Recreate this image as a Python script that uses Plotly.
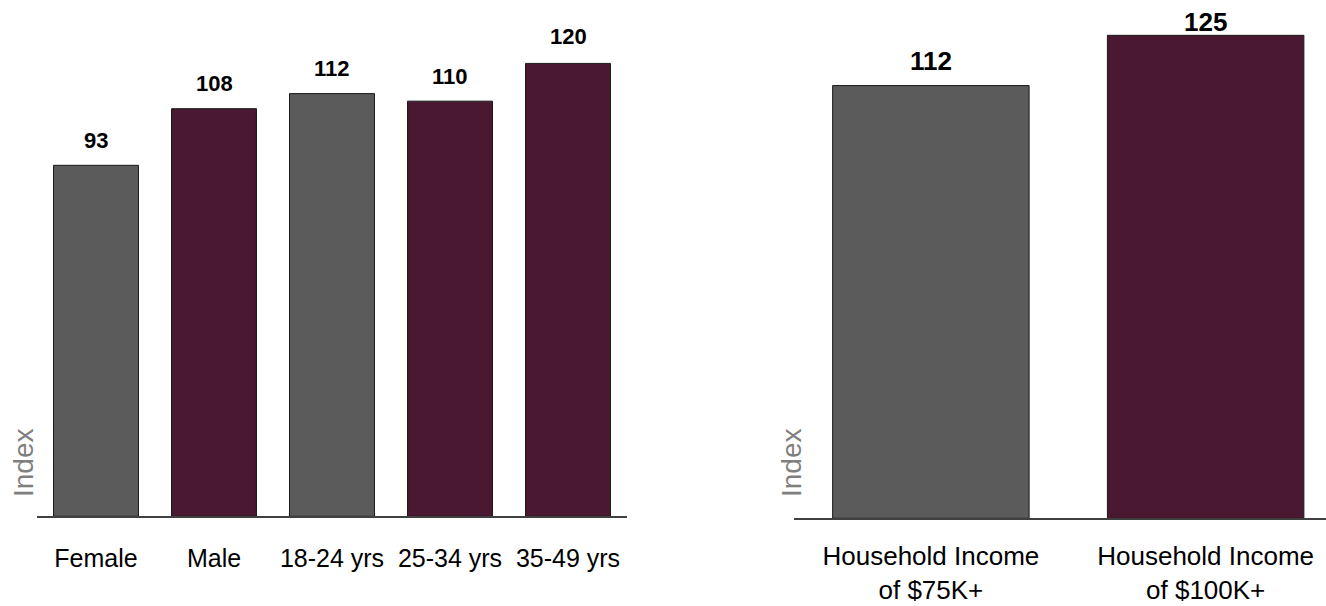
import plotly.graph_objects as go

# ---- data ----
demo_categories = ["Female", "Male", "18-24 yrs", "25-34 yrs", "35-49 yrs"]
demo_values = [93, 108, 112, 110, 120]
income_categories = ["Household Income<br>of $75K+", "Household Income<br>of $100K+"]
income_values = [112, 125]
axis_title = "Index"

GRAY = "#5b5b5b"
MAROON = "#4a1830"
demo_colors = [GRAY, MAROON, GRAY, MAROON, MAROON]
income_colors = [GRAY, MAROON]
demo_label_shift = [25, 25, 25, 25, 27]
income_label_shift = [25, 13]

FONT = "Liberation Sans, Arial, sans-serif"

fig = go.Figure()
fig.add_trace(go.Bar(
    x=list(range(len(demo_categories))), y=demo_values,
    marker=dict(color=demo_colors, line=dict(color="#1a1a1a", width=1)),
    width=0.72, xaxis="x", yaxis="y", showlegend=False, hoverinfo="skip",
))
fig.add_trace(go.Bar(
    x=list(range(len(income_categories))), y=income_values,
    marker=dict(color=income_colors, line=dict(color="#1a1a1a", width=1)),
    width=0.715, xaxis="x2", yaxis="y2", showlegend=False, hoverinfo="skip",
))

annotations = []
for i, v in enumerate(demo_values):
    annotations.append(dict(x=i, y=v, xref="x", yref="y", text=f"<b>{v}</b>",
                            showarrow=False, yanchor="middle", yshift=demo_label_shift[i],
                            font=dict(family=FONT, size=22, color="#000")))
for i, v in enumerate(income_values):
    annotations.append(dict(x=i, y=v, xref="x2", yref="y2", text=f"<b>{v}</b>",
                            showarrow=False, yanchor="middle", yshift=income_label_shift[i],
                            font=dict(family=FONT, size=26, color="#000")))
for xp in [23 / 1326, 791 / 1326]:
    annotations.append(dict(x=xp, y=(606 - 463) / 606, xref="paper", yref="paper",
                            text=axis_title, showarrow=False, textangle=-90,
                            xanchor="center", yanchor="middle",
                            font=dict(family=FONT, size=28, color="#7f7f7f")))

fig.update_layout(
    template="none",
    width=1326, height=606,
    margin=dict(l=0, r=0, t=0, b=0, pad=0),
    paper_bgcolor="white", plot_bgcolor="white",
    xaxis=dict(domain=[37 / 1326, 627 / 1326], range=[-0.5, 4.5], automargin=False,
               tickmode="array", tickvals=list(range(len(demo_categories))),
               ticktext=demo_categories, showgrid=False, zeroline=False,
               showline=True, linecolor="#404040", linewidth=1.5, ticks="",
               ticklabelstandoff=19,
               tickfont=dict(family=FONT, size=25, color="#000")),
    yaxis=dict(domain=[(606 - 516.3) / 606, (606 - 6.8) / 606], range=[0, 135],
               visible=False, automargin=False),
    xaxis2=dict(domain=[793.5 / 1326, 1.0], range=[-0.5, 1.438], anchor="y2",
                automargin=False,
                tickmode="array", tickvals=list(range(len(income_categories))),
                ticktext=income_categories, showgrid=False, zeroline=False,
                showline=True, linecolor="#404040", linewidth=1.5, ticks="",
                ticklabelstandoff=14,
                tickfont=dict(family=FONT, size=26, color="#000")),
    yaxis2=dict(domain=[(606 - 518.3) / 606, (606 - 16) / 606], range=[0, 130],
                anchor="x2", visible=False, automargin=False),
    annotations=annotations,
)

fig.write_html(
    "out.html",
    config={"displayModeBar": False},
    post_script="document.body.style.margin='0';document.body.style.overflow='hidden';",
)
